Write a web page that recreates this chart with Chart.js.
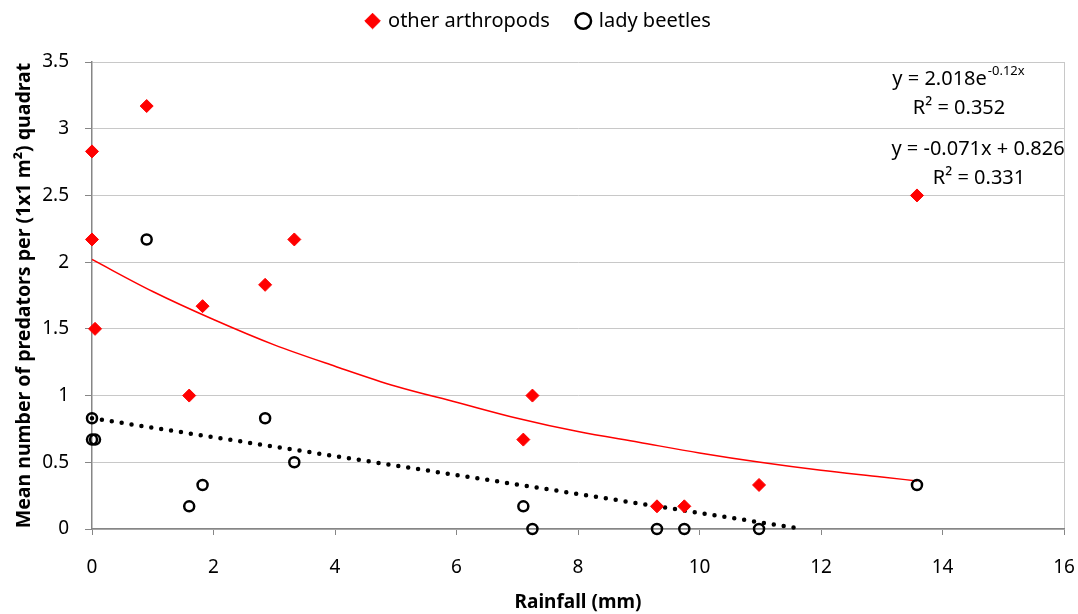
<!DOCTYPE html>
<html>
<head>
<meta charset="utf-8">
<script src="https://cdn.jsdelivr.net/npm/chart.js@4"></script>
<style>
  body { margin: 0; background: #fff; }
  #wrap { width: 1078px; height: 614px; }
</style>
</head>
<body>
<div id="wrap"><canvas id="chart" width="1078" height="614"></canvas></div>
<script>
/* ---- data ---- */
const rainfall     = [0, 0, 0.05, 0.9, 1.6, 1.82, 2.85, 3.33, 7.1, 7.25, 9.3, 9.75, 10.98, 13.58];
const arthropods   = [2.83, 2.17, 1.5, 3.17, 1.0, 1.67, 1.83, 2.17, 0.67, 1.0, 0.17, 0.17, 0.33, 2.5];
const beetlesX     = [0, 0, 0.05, 0.9, 1.6, 1.82, 2.85, 3.33, 7.1, 7.25, 9.3, 9.75, 10.98, 13.58];
const ladyBeetles  = [0.83, 0.67, 0.67, 2.17, 0.17, 0.33, 0.83, 0.5, 0.17, 0, 0, 0, 0, 0.33];

// trendlines as traced on the picture
const expTrendX = [0, 1, 2, 3, 4, 5, 6, 7, 8, 9, 10, 11, 12, 13, 13.58];
const expTrendY = [2.02, 1.78, 1.57, 1.38, 1.22, 1.07, 0.95, 0.83, 0.73, 0.65, 0.57, 0.50, 0.44, 0.39, 0.36];
const linTrendX = [0, 11.7];
const linTrendY = [0.83, 0];

const xTicks = [0, 2, 4, 6, 8, 10, 12, 14, 16];
const yTicks = [0, 0.5, 1, 1.5, 2, 2.5, 3, 3.5];

const FONT = '"Noto Sans", "Open Sans", sans-serif';
const pts = (xs, ys) => xs.map((x, i) => ({ x: x, y: ys[i] }));

/* ---- equation labels ---- */
const equationLabels = {
    id: 'equationLabels',
    beforeLayout(chart) {
        // fixed legend band so the plot starts where the original does
        const lg = chart.legend;
        if (lg && !lg._fixed) {
            const fit = lg.fit;
            lg.fit = function () { fit.call(this); this.height = 79; };
            lg._fixed = true;
        }
    },
    afterDatasetsDraw(chart) {
        const ctx = chart.ctx;
        ctx.save();
        ctx.fillStyle = '#000';
        ctx.textBaseline = 'middle';

        ctx.font = '13px ' + FONT;
        const supW = ctx.measureText('-0.12x').width;
        ctx.font = '20px ' + FONT;
        const base = 'y = 2.018e';
        const baseW = ctx.measureText(base).width;
        const sx = 958 - (baseW + supW) / 2;
        ctx.textAlign = 'left';
        ctx.fillText(base, sx, 79);
        ctx.font = '13px ' + FONT;
        ctx.fillText('-0.12x', sx + baseW + 1, 71);

        ctx.font = '20px ' + FONT;
        ctx.textAlign = 'center';
        ctx.fillText('R² = 0.352', 959, 108);
        ctx.fillText('y = -0.071x + 0.826', 978, 149);
        ctx.fillText('R² = 0.331', 979, 178);
        ctx.restore();
    }
};

new Chart(document.getElementById('chart'), {
    type: 'scatter',
    data: {
        datasets: [
            {
                label: 'other arthropods',
                data: pts(rainfall, arthropods),
                pointStyle: 'rectRot',
                pointRadius: 6.5,
                pointHoverRadius: 6.5,
                backgroundColor: '#ff0000',
                borderColor: '#ff0000',
                borderWidth: 1,
                clip: false,
                order: 1
            },
            {
                label: 'lady beetles',
                data: pts(beetlesX, ladyBeetles),
                pointStyle: 'circle',
                pointRadius: 5,
                pointHoverRadius: 5,
                backgroundColor: 'rgba(0,0,0,0)',
                borderColor: '#000',
                borderWidth: 2.5,
                clip: false,
                order: 0
            },
            {
                label: 'trendExp',
                type: 'line',
                data: pts(expTrendX, expTrendY),
                borderColor: '#ff0000',
                borderWidth: 1.5,
                pointRadius: 0,
                cubicInterpolationMode: 'monotone',
                fill: false,
                order: 3
            },
            {
                label: 'trendLin',
                type: 'line',
                data: pts(linTrendX, linTrendY),
                borderColor: '#000',
                borderWidth: 4.5,
                borderDash: [0, 10],
                borderCapStyle: 'round',
                pointRadius: 0,
                fill: false,
                clip: false,
                order: 2
            }
        ]
    },
    options: {
        responsive: false,
        animation: false,
        layout: { padding: { top: -17, right: 0, left: 0, bottom: 0 } },
        plugins: {
            legend: {
                position: 'top',
                labels: {
                    usePointStyle: true,
                    boxWidth: 11,
                    boxHeight: 11,
                    padding: 28,
                    color: '#000',
                    font: { family: FONT, size: 20 },
                    filter: item => !item.text.startsWith('trend'),
                    sort: (a, b) => a.datasetIndex - b.datasetIndex
                }
            },
            tooltip: { enabled: false }
        },
        scales: {
            x: {
                type: 'linear',
                min: 0, max: 16,
                afterBuildTicks: s => { s.ticks = xTicks.map(v => ({ value: v })); },
                afterFit: s => { s.height = 85; s.paddingRight = 14; },
                ticks: { color: '#000', font: { family: FONT, size: 19 }, padding: 21 },
                grid: {
                    drawOnChartArea: true,
                    color: ctx => ctx.tick && ctx.tick.value === 16 ? '#c8c8c8' : 'rgba(0,0,0,0)',
                    tickColor: '#868686',
                    tickLength: 6
                },
                border: { color: '#868686', width: 1.5 },
                title: {
                    display: true,
                    text: 'Rainfall (mm)',
                    color: '#000',
                    font: { family: FONT, size: 19, weight: 'bold' },
                    padding: { top: 4, bottom: 0 }
                }
            },
            y: {
                min: 0, max: 3.5,
                afterBuildTicks: s => { s.ticks = yTicks.map(v => ({ value: v })); },
                afterFit: s => { s.width = 92; },
                ticks: {
                    color: '#000',
                    font: { family: FONT, size: 19 },
                    padding: 16,
                    callback: v => String(v)
                },
                grid: { color: '#c8c8c8', tickColor: '#868686', tickLength: 7 },
                border: { color: '#868686', width: 1.5 },
                title: {
                    display: true,
                    text: 'Mean number of predators per (1x1 m²) quadrat',
                    color: '#000',
                    font: { family: FONT, size: 19.5, weight: 'bold' },
                    padding: { top: 13, bottom: 4 }
                }
            }
        }
    },
    plugins: [equationLabels]
});
</script>
</body>
</html>
